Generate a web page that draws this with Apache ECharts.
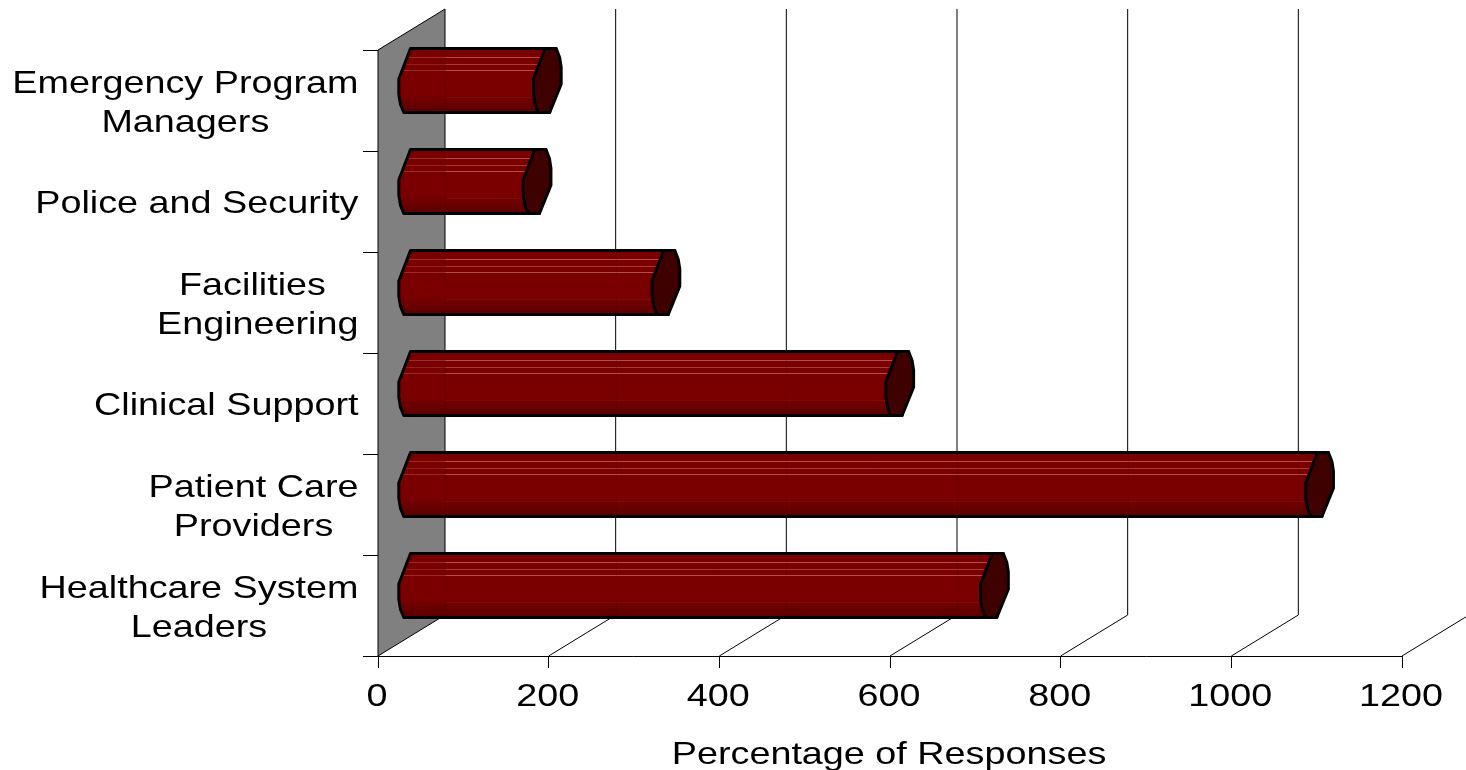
<!DOCTYPE html>
<html>
<head>
<meta charset="utf-8">
<title>Percentage of Responses</title>
<style>
  html, body { margin: 0; padding: 0; background: #fff; }
  #chart { width: 1466px; height: 770px; }
</style>
<script src="https://cdn.jsdelivr.net/npm/echarts@6/dist/echarts.min.js"></script>
</head>
<body>
<div id="chart"></div>
<script>
// Response counts by role, listed from the bottom of the axis upward.
const categories = [
  'Healthcare System\nLeaders',
  'Patient Care\nProviders',
  'Clinical Support',
  'Facilities \nEngineering',
  'Police and Security',
  'Emergency Program\nManagers'
];
const responses = [683, 1064, 572, 298, 147, 159];
const valueTicks = [0, 200, 400, 600, 800, 1000, 1200];
const valueAxisTitle = 'Percentage of Responses';

// Oblique projection of the pseudo-3D box, in pixels.
const DEPTH_X = 67;
const DEPTH_Y = -41;
// Text is drawn wider than the font's natural proportions.
const TEXT_FONT = '32px "Liberation Sans", Arial, sans-serif';
const TEXT_STRETCH = 1.18;
const LABEL_RIGHT_EDGE = 358.5;

// Facet outline of a bar end, relative to its centre and half height.
const capOutline = [
  [-2, -1], [9, -1], [12.5, -0.72], [14, -0.42], [14, 0.1], [2.5, 0.97],
  [-8.7, 0.97], [-12, 0.72], [-13.7, 0.4], [-13.7, -0.06]
];
// Highlight bands, as [pixels below the bar's top, strength].
const STRIPES = [[9, 0.62], [16, 0.45], [22, 0.6], [49, 0.09]];

function measureWidth(text) {
  const ctx = document.createElement('canvas').getContext('2d');
  ctx.font = TEXT_FONT;
  return Math.max(...text.split('\n').map(s => ctx.measureText(s).width));
}

function stretchedText(text, x, y) {
  return {
    type: 'text',
    x, y,
    scaleX: TEXT_STRETCH,
    silent: true,
    style: {
      text,
      font: TEXT_FONT,
      fill: '#000',
      align: 'center',
      verticalAlign: 'middle',
      lineHeight: 39
    }
  };
}

function renderBackdrop(params, api) {
  const cs = params.coordSys;
  const floor = cs.y + cs.height;
  const x = api.coord([api.value(0), 0])[0];
  const backX = x + DEPTH_X;
  const children = [];
  if (api.value(0) === 0) {
    children.push({
      type: 'polygon',
      shape: { points: [[x, cs.y], [backX, cs.y + DEPTH_Y], [backX, floor + DEPTH_Y], [x, floor]] },
      style: { fill: '#808080', stroke: '#000', lineWidth: 1 }
    });
  } else {
    children.push({
      type: 'polyline',
      shape: { points: [[x, floor], [backX, floor + DEPTH_Y], [backX, cs.y + DEPTH_Y]] },
      style: { stroke: '#000', lineWidth: 1, fill: null }
    });
  }
  return { type: 'group', children };
}

function renderBar(params, api) {
  const end = api.coord([api.value(0), api.value(1)]);
  const start = api.coord([0, api.value(1)]);
  const half = api.size([0, 1])[1] * 0.322;
  const cy = end[1] + DEPTH_Y / 2 + 1;
  const x0 = start[0] + DEPTH_X / 2 + 1;
  const x1 = end[0] + DEPTH_X / 2;
  const at = (cx, p) => [cx + p[0], cy + p[1] * half];

  // Near end: the outline's left-facing vertices, walked in reverse.
  const leftSide = [capOutline[0], capOutline[9], capOutline[8], capOutline[7], capOutline[6]];
  const body = leftSide.map(p => at(x0, p));
  body.push(at(x1, capOutline[6]));
  body.push(at(x1, capOutline[5]));
  body.push(at(x1, capOutline[1]));
  body.push(at(x1, capOutline[0]));

  const children = [{
    type: 'polygon',
    shape: { points: body },
    style: {
      fill: new echarts.graphic.LinearGradient(0, 0, 0, 1, [
        { offset: 0, color: '#6a0000' },
        { offset: 0.07, color: '#7a0000' },
        { offset: 0.7, color: '#7a0000' },
        { offset: 1, color: '#560000' }
      ]),
      stroke: '#000',
      lineWidth: 3,
      lineJoin: 'round'
    }
  }];

  // Pale highlight bands across the lit side, fainter over the wall.
  const wallEdge = start[0] + DEPTH_X;
  const edgeAt = offset => (offset < half * 0.94 ? -2 - 11.7 * offset / (half * 0.94) : -11);
  STRIPES.forEach(([offset, strength]) => {
    const y = Math.round(cy - half + offset) + 0.5;
    const from = x0 + edgeAt(offset) + 2;
    const to = x1 + edgeAt(offset) - 2;
    if (strength > 0.2) {
      children.push({
        type: 'line',
        shape: { x1: from, y1: y, x2: Math.min(wallEdge, to), y2: y },
        style: { stroke: '#d88080', lineWidth: 1, opacity: strength * 0.55 }
      });
    }
    children.push({
      type: 'line',
      shape: { x1: wallEdge, y1: y, x2: to, y2: y },
      style: { stroke: '#d88080', lineWidth: 1, opacity: strength }
    });
  });

  // Back-wall rules showing faintly through the bar.
  valueTicks.forEach(t => {
    const gx = Math.round(api.coord([t, 0])[0] + DEPTH_X) + 0.5;
    if (gx > x0 && gx < x1 - 12) {
      children.push({
        type: 'line',
        shape: { x1: gx, y1: cy - half + 3, x2: gx, y2: cy + half - 2 },
        style: { stroke: '#400000', lineWidth: 1, opacity: 0.22 }
      });
    }
  });

  children.push({
    type: 'polygon',
    shape: { points: capOutline.map(p => at(x1, p)) },
    style: { fill: '#3f0000', stroke: '#000', lineWidth: 3, lineJoin: 'round' }
  });
  return { type: 'group', children };
}

function renderCategoryLabel(params, api) {
  const text = categories[api.value(1)];
  const y = api.coord([0, api.value(1)])[1] + 3;
  const width = measureWidth(text) * TEXT_STRETCH;
  return stretchedText(text, LABEL_RIGHT_EDGE - width / 2, y);
}

function renderTickLabel(params, api) {
  const x = api.coord([api.value(0), 0])[0];
  const cs = params.coordSys;
  return stretchedText(String(api.value(0)), x - 1, cs.y + cs.height + 41);
}

function renderAxisTitle(params, api) {
  const cs = params.coordSys;
  return stretchedText(valueAxisTitle, 889, cs.y + cs.height + 99);
}

const axisPen = { color: '#000', width: 1 };

const chart = echarts.init(document.getElementById('chart'), null, { renderer: 'canvas' });
chart.setOption({
  animation: false,
  backgroundColor: '#fff',
  grid: { left: 378, right: 64, top: 50, bottom: 114, containLabel: false },
  xAxis: {
    type: 'value',
    min: 0,
    max: 1200,
    interval: 200,
    axisLine: { show: true, lineStyle: axisPen },
    axisTick: { show: true, length: 12, lineStyle: axisPen },
    axisLabel: { show: false },
    splitLine: { show: false }
  },
  yAxis: {
    type: 'category',
    data: categories,
    axisLine: { show: true, lineStyle: axisPen },
    axisTick: { show: true, length: 15, alignWithLabel: false, lineStyle: axisPen },
    axisLabel: { show: false }
  },
  series: [
    {
      name: 'Box',
      type: 'custom',
      renderItem: renderBackdrop,
      clip: false,
      silent: true,
      z: 1,
      encode: { x: 0, y: 1 },
      data: valueTicks.map(t => [t, 0])
    },
    {
      name: 'Responses',
      type: 'custom',
      renderItem: renderBar,
      clip: false,
      z: 3,
      encode: { x: 0, y: 1 },
      data: responses.map((v, i) => [v, i])
    },
    {
      name: 'Role labels',
      type: 'custom',
      renderItem: renderCategoryLabel,
      clip: false,
      silent: true,
      z: 4,
      encode: { x: 0, y: 1 },
      data: categories.map((c, i) => [0, i])
    },
    {
      name: 'Value labels',
      type: 'custom',
      renderItem: renderTickLabel,
      clip: false,
      silent: true,
      z: 4,
      encode: { x: 0, y: 1 },
      data: valueTicks.map(t => [t, 0])
    },
    {
      name: 'Axis title',
      type: 'custom',
      renderItem: renderAxisTitle,
      clip: false,
      silent: true,
      z: 4,
      encode: { x: 0, y: 1 },
      data: [[0, 0]]
    }
  ]
});
</script>
</body>
</html>
